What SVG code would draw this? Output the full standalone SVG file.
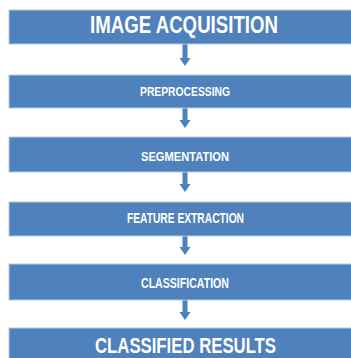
<svg xmlns="http://www.w3.org/2000/svg" width="351" height="358" viewBox="0 0 351 358">
<style>
.box{fill:#4f81bd;stroke:#b8cce4;stroke-width:1}
.t{fill:#fff;font-family:"Liberation Sans","Open Sans",sans-serif;font-weight:bold;text-anchor:middle}
.arr{fill:#4f81bd}
</style>
<rect width="351" height="358" fill="#fff"/>
<g id="connectors">
<path class="arr" d="M182.5,44 h5 v14 h3 l-5.5,8 l-5.5,-8 h3 z"/>
<path class="arr" d="M182.5,108 h5 v12 h3 l-5.5,8 l-5.5,-8 h3 z"/>
<path class="arr" d="M182.5,172 h5 v12 h3 l-5.5,8 l-5.5,-8 h3 z"/>
<path class="arr" d="M182.5,236 h5 v11 h3 l-5.5,8 l-5.5,-8 h3 z"/>
<path class="arr" d="M182.5,300 h5 v12 h3 l-5.5,8 l-5.5,-8 h3 z"/>
</g>
<g id="n1"><rect class="box" x="9" y="10" width="350" height="34"/><text class="t" x="184" y="33" font-size="23" textLength="188" lengthAdjust="spacingAndGlyphs">IMAGE ACQUISITION</text></g>
<g id="n2"><rect class="box" x="9" y="75" width="350" height="33"/><text class="t" x="185" y="96" font-size="12.5" textLength="90" lengthAdjust="spacingAndGlyphs">PREPROCESSING</text></g>
<g id="n3"><rect class="box" x="9" y="137" width="350" height="35"/><text class="t" x="185" y="161" font-size="13.5" textLength="88" lengthAdjust="spacingAndGlyphs">SEGMENTATION</text></g>
<g id="n4"><rect class="box" x="9" y="202" width="350" height="34"/><text class="t" x="185.5" y="223" font-size="14" textLength="117" lengthAdjust="spacingAndGlyphs">FEATURE EXTRACTION</text></g>
<g id="n5"><rect class="box" x="9" y="264" width="350" height="36"/><text class="t" x="185" y="288" font-size="14" textLength="88" lengthAdjust="spacingAndGlyphs">CLASSIFICATION</text></g>
<g id="n6"><rect class="box" x="9" y="328" width="350" height="34"/><text class="t" x="185.5" y="353" font-size="22" textLength="181" lengthAdjust="spacingAndGlyphs">CLASSIFIED RESULTS</text></g>
</svg>
